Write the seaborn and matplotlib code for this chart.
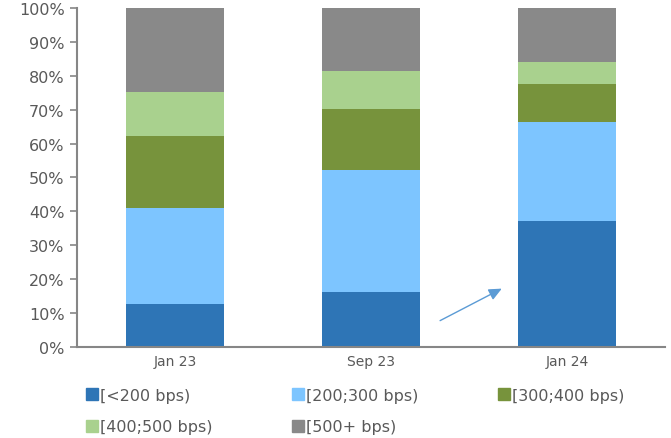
import pandas as pd
import numpy as np
import matplotlib.pyplot as plt
import seaborn as sb

periods = ["Jan 23", "Sep 23", "Jan 24"]
buckets = ["[<200 bps)", "[200;300 bps)", "[300;400 bps)", "[400;500 bps)", "[500+ bps)"]
lt200 = [12.7, 16.2, 37.2]
b200_300 = [28.3, 36.0, 29.2]
b300_400 = [21.2, 18.0, 11.2]
b400_500 = [13.0, 11.2, 6.5]
gt500 = [24.8, 18.6, 15.9]
colors = ["#2E75B6", "#7DC5FF", "#77933C", "#A9D18E", "#898989"]

df = pd.DataFrame({"period": periods})
for name, vals in zip(buckets, [lt200, b200_300, b300_400, b400_500, gt500]):
    df[name] = vals
# cumulative tops so the stacked layers can be drawn back to front
cum = df[buckets].cumsum(axis=1)

sb.set_style("white")
plt.rcParams['font.family'] = ['DejaVu Sans']
fig = plt.figure(figsize=(6.71, 4.39), dpi=100)
ax = fig.add_axes([0.1148, 0.2073, 0.8762, 0.7722])

handles = []
for name, col in reversed(list(zip(buckets, colors))):
    sb.barplot(x=df["period"], y=cum[name], color=col, width=0.5,
               saturation=1, edgecolor="none", ax=ax)
    handles.append(plt.Rectangle((0, 0), 1, 1, color=col, label=name))
handles = handles[::-1]

ax.annotate("", xy=(1.68, 17.6), xytext=(1.34, 7.4),
            arrowprops=dict(arrowstyle="-|>,head_length=0.55,head_width=0.25",
                            color="#5B9BD5", lw=1, mutation_scale=14))

ax.set_xlim(-0.5, 2.5)
ax.set_ylim(0, 100)
ax.set_yticks(np.arange(0, 101, 10))
ax.set_yticklabels([f"{v}%" for v in range(0, 101, 10)])
ax.set_xlabel("")
ax.set_ylabel("")
ax.set_xticks([-0.5, 0.5, 1.5, 2.5], minor=True)
ax.tick_params(axis="x", which="major", length=0, labelsize=10,
               colors="#595959", pad=5)
ax.tick_params(axis="x", which="minor", length=5, color="#868686", width=1.2)
ax.tick_params(axis="y", length=5, color="#868686", width=1.2,
               labelsize=11.5, labelcolor="#595959", pad=4, left=True)
for s in ["top", "right"]:
    ax.spines[s].set_visible(False)
for s in ["left", "bottom"]:
    ax.spines[s].set_color("#868686")
    ax.spines[s].set_linewidth(1.5)

order = [0, 3, 1, 4, 2]
fig.legend([handles[i] for i in order], [buckets[i] for i in order],
           ncol=3, loc="upper left", bbox_to_anchor=(0.128, 0.115),
           frameon=False, fontsize=11.5, handlelength=0.75, handleheight=0.75,
           handletextpad=0.15, columnspacing=4.95, labelspacing=1.05,
           borderaxespad=0, borderpad=0, labelcolor="#595959")

plt.savefig("out.png", dpi=100)
